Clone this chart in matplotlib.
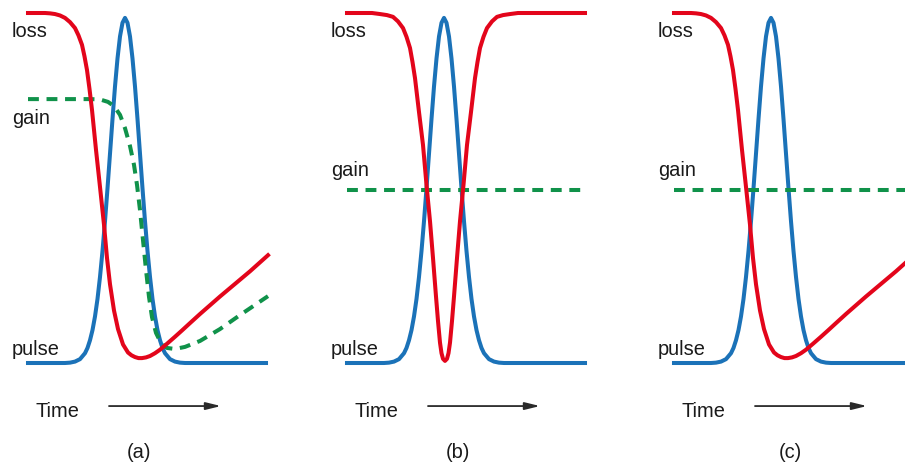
import matplotlib
matplotlib.use('Agg')
import matplotlib.pyplot as plt

# time axis in arbitrary units, levels normalised (0 = pulse baseline, 1 = loss top)
pulse_t = [0, 3.7, 4.2, 4.7, 5.2, 5.7, 5.95, 6.2, 6.45, 6.7, 6.95, 7.2, 7.45, 7.7, 7.95,
           8.2, 8.45, 8.7, 8.95, 9.2, 9.45, 9.7, 9.95, 10.2, 10.45, 10.7, 10.95, 11.2,
           11.45, 11.7, 11.95, 12.2, 12.45, 12.7, 12.95, 13.2, 13.45, 13.7, 14.2, 14.7,
           15.2, 15.7, 23.8]
pulse = [0, 0, 0.001, 0.004, 0.011, 0.028, 0.043, 0.065, 0.094, 0.133, 0.183, 0.246, 0.320,
         0.405, 0.499, 0.598, 0.697, 0.790, 0.870, 0.933, 0.972, 0.986, 0.972, 0.933, 0.870,
         0.790, 0.697, 0.598, 0.499, 0.405, 0.320, 0.246, 0.183, 0.133, 0.094, 0.065, 0.043,
         0.028, 0.011, 0.004, 0.001, 0, 0]

# loss with slow recovery, panels (a) and (c)
loss_slow_t = [0, 1.7, 2.2, 2.7, 3.2, 3.7, 4.2, 4.7, 5.05, 5.4, 5.65, 5.9, 6.15, 6.4, 6.8,
               7.2, 7.6, 7.9, 8.2, 8.6, 9.0, 9.5, 10.0, 10.35, 10.7, 11.05, 11.4, 11.8, 12.2,
               12.7, 13.2, 13.9, 14.7, 15.4, 16.2, 17.2, 18.2, 19.2, 20.2, 21.2, 22.2, 23.1,
               24.0]
loss_slow = [1.0, 1.0, 0.999, 0.997, 0.993, 0.986, 0.974, 0.957, 0.936, 0.909, 0.876, 0.837,
             0.783, 0.723, 0.609, 0.503, 0.395, 0.30, 0.225, 0.15, 0.097, 0.053, 0.03, 0.022,
             0.017, 0.014, 0.014, 0.016, 0.02, 0.028, 0.038, 0.055, 0.075, 0.093, 0.114, 0.14,
             0.165, 0.19, 0.214, 0.238, 0.262, 0.285, 0.308]

# loss with fast recovery, panel (b)
loss_fast_t = [0, 2.5, 3.3, 4.0, 4.6, 5.1, 5.6, 5.95, 6.3, 6.55, 6.8, 7.2, 7.6, 7.95, 8.3,
               8.6, 8.9, 9.1, 9.3, 9.45, 9.6, 9.8, 10.0, 10.15, 10.3, 10.5, 10.7, 11.0, 11.3,
               11.65, 12.0, 12.4, 12.8, 13.05, 13.3, 13.65, 14.0, 14.5, 15.0, 15.6, 16.3,
               17.1, 23.8]
loss_fast = [1.0, 1.0, 0.997, 0.994, 0.989, 0.976, 0.957, 0.932, 0.9, 0.86, 0.814, 0.717,
             0.623, 0.509, 0.405, 0.3, 0.19, 0.12, 0.058, 0.028, 0.012, 0.006, 0.012, 0.028,
             0.058, 0.12, 0.19, 0.3, 0.405, 0.509, 0.623, 0.717, 0.814, 0.86, 0.9, 0.932,
             0.957, 0.976, 0.989, 0.994, 0.997, 1.0, 1.0]

# saturable gain, panel (a)
gain_sat_t = [0, 6.2, 7.2, 8.0, 8.6, 9.2, 9.7, 10.2, 10.6, 10.9, 11.2, 11.5, 11.8, 12.1, 12.4,
              12.8, 13.3, 13.9, 14.7, 15.7, 17.2, 19.2, 21.2, 24.0]
gain_sat = [0.754, 0.754, 0.753, 0.746, 0.734, 0.709, 0.671, 0.62, 0.566, 0.509, 0.437, 0.351,
            0.266, 0.189, 0.131, 0.086, 0.057, 0.043, 0.04, 0.046, 0.063, 0.097, 0.137, 0.191]

# constant gain, panels (b) and (c)
gain_flat_t = [0, 23.8]
gain_flat = [0.494, 0.494]

panel_names = ['(a)', '(b)', '(c)']
gain_label_level = [0.683, 0.534, 0.534]

RED = '#e3051b'
BLUE = '#1b72b8'
GREEN = '#10924a'
TXT = '#1a1a1a'

plt.rcParams['font.family'] = ['Liberation Sans', 'DejaVu Sans']

fig = plt.figure(figsize=(9.05, 4.67), dpi=100)

panels = [
    (28, loss_slow_t, loss_slow, gain_sat_t, gain_sat, 11.1),
    (347, loss_fast_t, loss_fast, gain_flat_t, gain_flat, 11.05),
    (674, loss_slow_t, loss_slow, gain_flat_t, gain_flat, 11.6),
]

for i, (left, lt, lv, gt, gv, lab_x) in enumerate(panels):
    ax = fig.add_axes([left / 905, 104 / 467, 238 / 905, 350 / 467])
    ax.set_xlim(0, 23.8)
    ax.set_ylim(0, 1)
    ax.axis('off')

    ax.plot(pulse_t, pulse, color=BLUE, lw=2.9, clip_on=False,
            solid_joinstyle='round', zorder=2)
    ax.plot(gt, gv, color=GREEN, lw=2.9, dashes=(2.7, 1.9), clip_on=False, zorder=3)
    ax.plot(lt, lv, color=RED, lw=2.9, clip_on=False,
            solid_joinstyle='round', zorder=4)

    fs = 14.4
    ax.text(-1.6, 0.932, 'loss', fontsize=fs, color=TXT, va='baseline', ha='left')
    ax.text(-1.6, gain_label_level[i], 'gain', fontsize=fs, color=TXT, va='baseline', ha='left')
    ax.text(-1.6, 0.023, 'pulse', fontsize=fs, color=TXT, va='baseline', ha='left')
    ax.text(0.7, -0.153, 'Time', fontsize=fs, color=TXT, va='baseline', ha='left')
    ax.annotate('', xy=(19.3, -0.123), xytext=(8.1, -0.123), xycoords='data',
                annotation_clip=False,
                arrowprops=dict(arrowstyle='-|>,head_length=0.9,head_width=0.22',
                                color='#2a2a2a', lw=1.3, mutation_scale=10,
                                shrinkA=0, shrinkB=0))
    ax.text(lab_x, -0.256, panel_names[i], fontsize=fs, color=TXT, va='center', ha='center')

fig.savefig('out.png', dpi=100)
